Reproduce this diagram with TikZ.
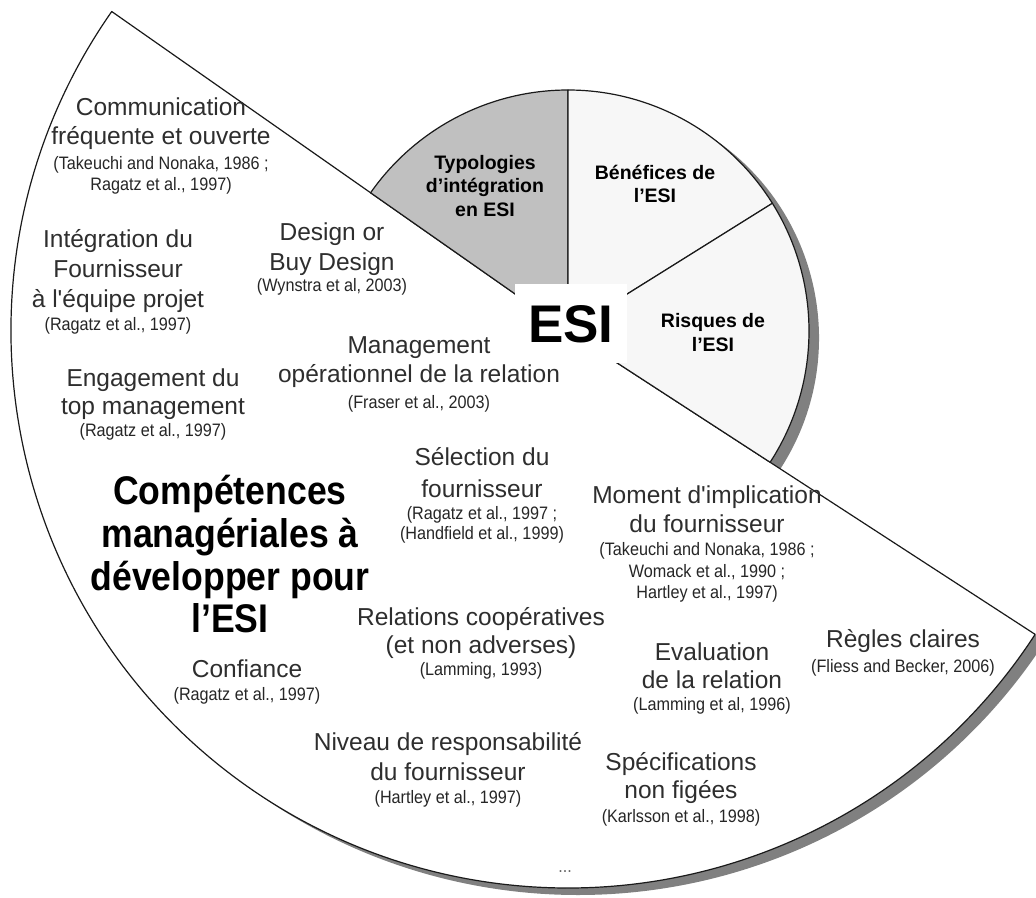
\documentclass[tikz,border=0pt]{standalone}
\usepackage{fontspec}
\setmainfont{Liberation Sans}
\newfontfamily\citefont[FakeStretch=0.9]{Liberation Sans}
\newfontfamily\bigttlfont[FakeStretch=0.89]{Liberation Sans}
\font\aposraw="Liberation Sans" at 24.5pt
\definecolor{shadowgray}{HTML}{808080}
\definecolor{typogray}{HTML}{C0C0C0}
\definecolor{lightsect}{HTML}{F7F7F7}
\definecolor{edgecol}{HTML}{1A1A1A}
\newcommand\tl[5]{\node[#1] (#2) at (#3,-#4) {#5};}
\newcommand\sq{{\aposraw\char39}}
\tikzset{
  lab/.style={font=\fontsize{24.5}{29}\selectfont, anchor=base, inner sep=0pt, text=black!82},
  cit/.style={font=\citefont\fontsize{18}{21}\selectfont, anchor=base, inner sep=0pt, text=black!85},
  ttl/.style={font=\bigttlfont\bfseries\fontsize{40}{44}\selectfont, anchor=base, inner sep=0pt},
  pielab/.style={font=\bfseries\fontsize{19.5}{24}\selectfont, anchor=base, inner sep=0pt},
  sector/.style={draw=edgecol, line width=1.2pt, line join=round},
}
\begin{document}
\begin{tikzpicture}[x=1pt,y=1pt]
\useasboundingbox (0,0) rectangle (1036,-897);
\coordinate (O) at (568,-331);
\coordinate (Os) at (578,-338);
% shadows
\fill[shadowgray] (Os) -- ++(145:557) arc[start angle=145, end angle=327, radius=557] -- cycle;
\fill[shadowgray] (Os) -- ++(-33:241) arc[start angle=-33, end angle=145, radius=241] -- cycle;
% big sector
\path[sector, fill=white] (O) -- ++(145:557) arc[start angle=145, end angle=327, radius=557] -- cycle;
% small pie
\path[sector, fill=typogray] (O) -- ++(90:241) arc[start angle=90, end angle=145, radius=241] -- cycle;
\path[sector, fill=lightsect] (O) -- ++(32:241) arc[start angle=32, end angle=90, radius=241] -- cycle;
\path[sector, fill=lightsect] (O) -- ++(-33:241) arc[start angle=-33, end angle=32, radius=241] -- cycle;
% ESI box
\node (esi) [fill=white, minimum width=112pt, minimum height=79pt, inner sep=0pt, text height=38pt, text depth=0pt,
  font=\bfseries\fontsize{53}{60}\selectfont] at (571,-323.5) {ESI};
% small pie labels
\tl{pielab}{ty1}{485}{169.3}{Typologies}
\tl{pielab}{ty2}{485}{192.7}{d’intégration}
\tl{pielab}{ty3}{485}{216}{en ESI}
\tl{pielab}{be1}{655}{179.3}{Bénéfices de}
\tl{pielab}{be2}{655}{202.7}{l’ESI}
\tl{pielab}{ri1}{713}{327.3}{Risques de}
\tl{pielab}{ri2}{713}{351.7}{l’ESI}
% big title
\tl{ttl}{c1}{230}{504}{Compétences}
\tl{ttl}{c2}{230}{547}{managériales à}
\tl{ttl}{c3}{230}{590}{développer pour}
\tl{ttl}{c4}{230}{632}{l’ESI}
% blocks
\tl{lab}{a1}{161}{115}{Communication}
\tl{lab}{a2}{161}{144}{fréquente et ouverte}
\tl{cit}{a3}{161}{169}{(Takeuchi and Nonaka, 1986 ;}
\tl{cit}{a4}{161}{190}{Ragatz et al., 1997)}
\tl{lab}{b1}{118}{247}{Intégration du}
\tl{lab}{b2}{118}{277}{Fournisseur}
\tl{lab}{b3}{118}{307}{à l\sq équipe projet}
\tl{cit}{b4}{118}{330}{(Ragatz et al., 1997)}
\tl{lab}{e1}{153}{386}{Engagement du}
\tl{lab}{e2}{153}{414}{top management}
\tl{cit}{e3}{153}{436}{(Ragatz et al., 1997)}
\tl{lab}{d1}{332}{240}{Design or}
\tl{lab}{d2}{332}{270}{Buy Design}
\tl{cit}{d3}{332}{291}{(Wynstra et al, 2003)}
\tl{lab}{m1}{419}{353}{Management}
\tl{lab}{m2}{419}{382}{opérationnel de la relation}
\tl{cit}{m3}{419}{408}{(Fraser et al., 2003)}
\tl{lab}{f1}{247}{677}{Confiance}
\tl{cit}{f2}{247}{700}{(Ragatz et al., 1997)}
\tl{lab}{s1}{482}{465}{Sélection du}
\tl{lab}{s2}{482}{497}{fournisseur}
\tl{cit}{s3}{482}{519}{(Ragatz et al., 1997 ;}
\tl{cit}{s4}{482}{539}{(Handfield et al., 1999)}
\tl{lab}{r1}{481}{625}{Relations coopératives}
\tl{lab}{r2}{481}{653}{(et non adverses)}
\tl{cit}{r3}{481}{675}{(Lamming, 1993)}
\tl{lab}{mo1}{707}{503}{Moment d\sq implication}
\tl{lab}{mo2}{707}{532}{du fournisseur}
\tl{cit}{mo3}{707}{555}{(Takeuchi and Nonaka, 1986 ;}
\tl{cit}{mo4}{707}{577}{Womack et al., 1990 ;}
\tl{cit}{mo5}{707}{598}{Hartley et al., 1997)}
\tl{lab}{ev1}{712}{660}{Evaluation}
\tl{lab}{ev2}{712}{688}{de la relation}
\tl{cit}{ev3}{712}{710}{(Lamming et al, 1996)}
\tl{lab}{rg1}{903}{647}{Règles claires}
\tl{cit}{rg2}{903}{672}{(Fliess and Becker, 2006)}
\tl{lab}{n1}{448}{750}{Niveau de responsabilité}
\tl{lab}{n2}{448}{780}{du fournisseur}
\tl{cit}{n3}{448}{803}{(Hartley et al., 1997)}
\tl{lab}{sp1}{681}{770}{Spécifications}
\tl{lab}{sp2}{681}{798}{non figées}
\tl{cit}{sp3}{681}{822}{(Karlsson et al., 1998)}
\tl{cit}{dots}{565}{872}{\textcolor{black!60}{...}}
\end{tikzpicture}
\end{document}
